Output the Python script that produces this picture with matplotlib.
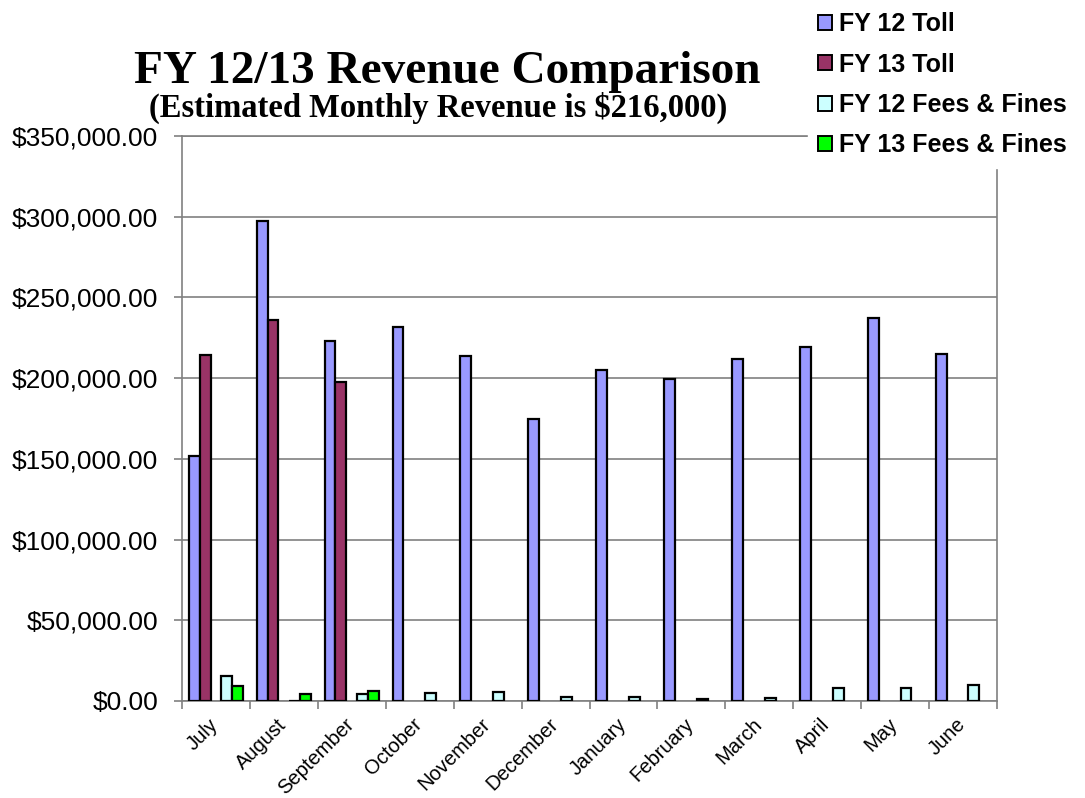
import matplotlib.pyplot as plt
import numpy as np
from matplotlib.ticker import FuncFormatter, MultipleLocator
from matplotlib.transforms import ScaledTranslation

plt.rcParams['font.family'] = ['Liberation Sans', 'DejaVu Sans']

months = ['July', 'August', 'September', 'October', 'November', 'December',
          'January', 'February', 'March', 'April', 'May', 'June']
fy12_toll = [152000, 297500, 223100, 231800, 213600, 174600,
             204800, 199600, 211800, 219200, 237200, 215000]
fy13_toll = [214400, 236200, 197900]
fy12_fees = [15200, 300, 4100, 5100, 5300, 2300,
             2700, 1400, 1900, 7800, 7800, 9700]
fy13_fees = [9500, 4500, 6400]

fig = plt.figure(figsize=(10.85, 7.98), dpi=100)
ax = fig.add_axes([182 / 1085, 1 - 701 / 798, (997 - 182) / 1085, (701 - 136) / 798])

x = np.arange(len(months))
w = 0.16
ec = 'black'
lw = 1.6
ax.bar(x - 2 * w, fy12_toll, w, color='#9999FF', edgecolor=ec, linewidth=lw, zorder=3, label='FY 12 Toll')
ax.bar(x[:len(fy13_toll)] - w, fy13_toll, w, color='#993366', edgecolor=ec, linewidth=lw, zorder=3, label='FY 13 Toll')
ax.bar(x + w, fy12_fees, w, color='#CCFFFF', edgecolor=ec, linewidth=lw, zorder=3, label='FY 12 Fees & Fines')
ax.bar(x[:len(fy13_fees)] + 2 * w, fy13_fees, w, color='#00FF00', edgecolor=ec, linewidth=lw, zorder=3, label='FY 13 Fees & Fines')

ax.set_xlim(-0.5, 11.5)
ax.set_ylim(0, 350000)
ax.yaxis.set_major_locator(MultipleLocator(50000))
ax.yaxis.set_major_formatter(FuncFormatter(lambda v, p: '${:,.2f}'.format(v)))
ax.grid(axis='y', color='#808080', linewidth=1.2, zorder=0)

ax.set_xticks(x)
ax.set_xticklabels(months, rotation=45, ha='right', va='top', rotation_mode='anchor', fontsize=14.5)
ax.set_xticks(np.arange(-0.5, 12, 1), minor=True)
ax.tick_params(axis='x', which='major', length=0, pad=10)
ax.tick_params(axis='x', which='minor', length=6, color='#808080', width=1.2)
ax.tick_params(axis='y', length=6, color='#808080', width=1.2, labelsize=19, pad=11)
for s in ax.spines.values():
    s.set_color('#808080')
    s.set_linewidth(1.2)

# nudge the slanted month labels a bit left, like the original
shift = ScaledTranslation(-7 / 100, 0, fig.dpi_scale_trans)
for t in ax.get_xticklabels():
    t.set_transform(t.get_transform() + shift)

fig.text(447 / 1085, 1 - 83 / 798, 'FY 12/13 Revenue Comparison', ha='center', va='baseline',
         family='Liberation Serif', weight='bold', fontsize=34)
fig.text(438 / 1085, 1 - 117 / 798, '(Estimated Monthly Revenue is $216,000)', ha='center', va='baseline',
         family='Liberation Serif', weight='bold', fontsize=23.5)

leg = fig.legend(loc='upper left', bbox_to_anchor=(808 / 1085, 1 - 2 / 798),
                 prop={'weight': 'bold', 'size': 18}, handlelength=0.55, handleheight=0.55,
                 handletextpad=0.3, labelspacing=0.66, borderpad=0.4, borderaxespad=0,
                 frameon=True, fancybox=False, facecolor='white', edgecolor='white', framealpha=1)
for h in leg.legend_handles:
    h.set_linewidth(1.4)

fig.savefig('out.png', dpi=100)
